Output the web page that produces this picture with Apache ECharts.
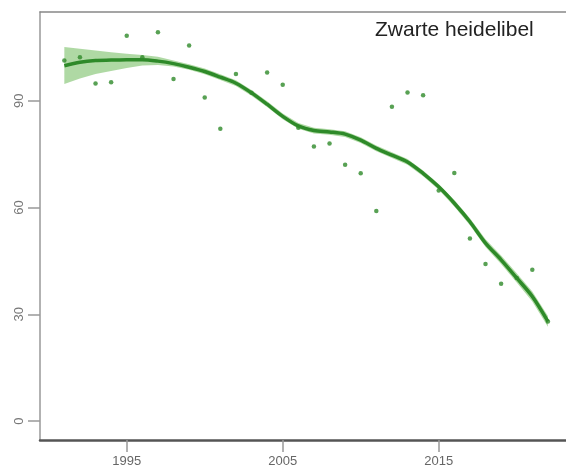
<!DOCTYPE html>
<html><head><meta charset="utf-8">
<script src="https://cdn.jsdelivr.net/npm/echarts@6/dist/echarts.min.js"></script>
<style>html,body{margin:0;padding:0;background:#fff}#c{width:566px;height:468px}</style>
</head><body><div id="c"></div>
<script>
const title = "Zwarte heidelibel";
const years = [1991,1992,1993,1994,1995,1996,1997,1998,1999,2000,2001,2002,2003,2004,2005,2006,2007,2008,2009,2010,2011,2012,2013,2014,2015,2016,2017,2018,2019,2020,2021,2022];
const observed = [101.3,102.2,94.8,95.2,108.2,102.2,109.2,96.1,105.5,90.9,82.1,97.5,92.2,97.9,94.5,82.4,77.1,78.0,72.0,69.6,59.0,88.3,92.3,91.5,64.8,69.7,51.3,44.1,38.6,40.2,42.5,28.0];
const trend = [99.8,100.8,101.3,101.4,101.5,101.5,101.1,100.4,99.4,98.2,96.6,94.9,92.2,89.0,85.6,82.9,81.6,81.2,80.6,78.9,76.6,74.7,72.8,69.6,65.8,61.2,56.0,50.0,45.3,40.2,35.0,28.0];
const lower = [94.7,96.2,97.5,98.3,99.2,99.9,100.0,99.6,98.7,97.4,95.8,94.1,91.4,88.2,84.8,82.1,80.8,80.4,79.8,78.1,75.8,73.9,72.0,68.8,65.0,60.3,55.0,48.9,44.1,38.9,33.6,26.5];
const upper = [105.1,104.6,104.1,103.6,103.2,102.8,102.3,101.3,100.2,99.0,97.4,95.7,93.0,89.8,86.4,83.7,82.4,82.0,81.4,79.7,77.4,75.5,73.6,70.4,66.6,62.1,57.0,51.1,46.5,41.5,36.4,29.5];
const xTicks = [1995,2005,2015];
const yTicks = [0,30,60,90];

const green = '#2e8a29';
const font = 'Liberation Sans, Arial, sans-serif';
const chart = echarts.init(document.getElementById('c'));
chart.setOption({
  animation:false,
  title:{text:title,left:370,top:15,textStyle:{fontFamily:font,fontSize:21,fontWeight:'normal',color:'#222'}},
  grid:{left:40,right:0,top:12,bottom:28},
  xAxis:[{
    type:'value',min:1989.44,max:2023.16,position:'bottom',
    axisLine:{show:true,onZero:false,lineStyle:{color:'#555',width:2.5}},
    axisTick:{show:true,length:12,customValues:xTicks,lineStyle:{color:'#999',width:1.5}},
    axisLabel:{customValues:xTicks,margin:15,fontSize:13,color:'#666',fontFamily:font,formatter:v=>String(v)},
    splitLine:{show:false}
  },{
    type:'value',min:1989.44,max:2023.16,position:'top',
    axisLine:{show:true,onZero:false,lineStyle:{color:'#888',width:1.5}},
    axisTick:{show:false},axisLabel:{show:false},splitLine:{show:false}
  }],
  yAxis:{
    type:'value',min:-5.3,max:114.9,
    axisLine:{show:true,onZero:false,lineStyle:{color:'#999',width:1.5}},
    axisTick:{show:true,length:12,customValues:yTicks,lineStyle:{color:'#999',width:1.5}},
    axisLabel:{customValues:yTicks,rotate:90,margin:14,fontSize:13,color:'#777',fontFamily:font,formatter:v=>String(v)},
    splitLine:{show:false}
  },
  series:[
    {type:'custom',silent:true,z:1,
     data:[0],
     renderItem:function(params,api){
       const pts=[];
       for(let i=0;i<years.length;i++) pts.push(api.coord([years[i],upper[i]]));
       for(let i=years.length-1;i>=0;i--) pts.push(api.coord([years[i],lower[i]]));
       return {type:'polygon',shape:{points:pts},style:{fill:'rgba(110,185,90,0.55)'}};
     }},
    {type:'line',z:2,data:years.map((y,i)=>[y,trend[i]]),smooth:0.3,symbol:'none',lineStyle:{color:green,width:3.5}},
    {type:'scatter',z:3,data:years.map((y,i)=>[y,observed[i]]),symbolSize:4.5,itemStyle:{color:green}}
  ]
});
</script></body></html>
